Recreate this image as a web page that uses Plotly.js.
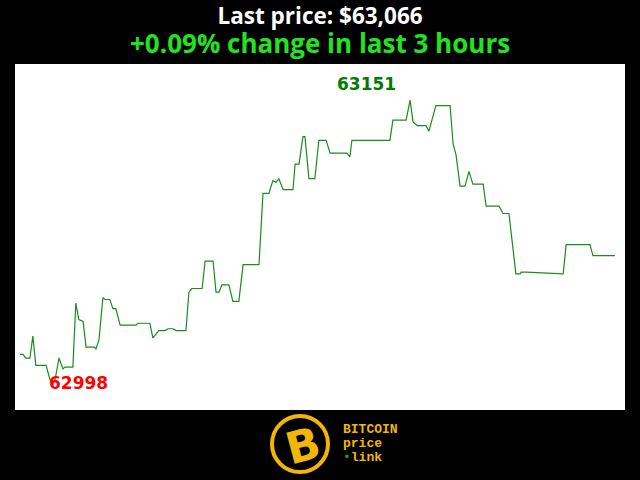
<!DOCTYPE html>
<html>
<head>
<meta charset="utf-8">
<script src="https://cdn.plot.ly/plotly-3.0.1.min.js"></script>
<style>html,body{margin:0;padding:0;background:#000;}#chart{width:640px;height:480px;}</style>
</head>
<body>
<div id="chart"></div>
<script>
// minutes since start of 3-hour window
const minutes = [0,0.9,1.8,3.0,3.9,4.8,7.9,9.1,10.6,11.8,13.0,13.6,16.0,16.9,17.8,19.1,20.0,22.4,23.0,23.9,
  25.1,25.7,27.2,28.1,29.0,30.3,35.1,35.7,39.3,40.2,42.0,43.9,44.8,46.3,47.2,50.2,51.1,52.0,55.1,56.0,
  58.4,59.3,60.2,61.1,63.2,64.4,66.2,67.5,72.3,73.5,75.0,75.3,76.5,77.4,78.3,79.6,82.6,83.2,84.4,85.6,
  86.2,87.4,89.2,90.4,92.6,93.8,98.9,99.8,100.4,111.9,112.8,116.8,118.0,118.9,120.1,122.8,123.7,125.8,130.1,131.0,
  131.9,133.1,134.6,135.8,137.0,140.1,141.0,144.9,146.1,147.9,150.0,151.3,151.6,153.1,164.3,165.2,172.4,173.3,180.0];
const prices = [63012,63012,63010,63010,63022,63006,63006,62998,62998,63010,63004,63005,63005,63040,63031,63030,63016,63016,63015,63020,
  63043,63042,63042,63037,63037,63028,63028,63029,63029,63021,63025,63025,63026,63026,63025,63025,63046,63048,63048,63063,
  63063,63046,63046,63050,63050,63041,63041,63061,63061,63100,63100,63100,63107,63106,63108,63102,63102,63116,63116,63131,
  63131,63108,63108,63129,63129,63122,63122,63120,63129,63129,63140,63140,63151,63139,63137,63137,63134,63148,63148,63127,
  63121,63104,63104,63112,63105,63105,63093,63093,63089,63089,63056,63056,63057,63057,63056,63072,63072,63066,63066];
const lastPrice = "$63,066";
const changeText = "+0.09% change in last 3 hours";
const maxLabel = "63151";
const minLabel = "62998";

const iMax = prices.indexOf(Math.max(...prices));
const iMin = prices.indexOf(Math.min(...prices));

const trace = {
  x: minutes, y: prices, type: 'scatter', mode: 'lines',
  line: {color: '#1a8c1a', width: 1.2}, hoverinfo: 'none'
};

const gold = '#f2b705';
const px = v => (v - 15) / 610;   // pixel x -> paper
const py = v => (410 - v) / 346;  // pixel y -> paper
const layout = {
  width: 640, height: 480,
  paper_bgcolor: '#000', plot_bgcolor: '#fff',
  margin: {l: 15, r: 15, t: 64, b: 70},
  showlegend: false,
  xaxis: {range: [-1.5, 183.0], visible: false, fixedrange: true},
  yaxis: {range: [62981.6, 63170.7], visible: false, fixedrange: true},
  shapes: [
    {type: 'circle', xref: 'paper', yref: 'paper',
     x0: px(272), x1: px(328), y0: py(472), y1: py(416),
     line: {color: gold, width: 4}, fillcolor: '#000'}
  ],
  annotations: [
    {xref: 'paper', yref: 'paper', x: px(320), y: py(31), xanchor: 'center', yanchor: 'middle',
     text: '<b>Last price: ' + lastPrice + '</b><br><span style="font-size:26px;color:#22e322"><b>' + changeText + '</b></span>',
     showarrow: false, align: 'center',
     font: {family: 'Open Sans, sans-serif', size: 22.5, color: '#fff'}},
    {x: minutes[iMax], y: prices[iMax], text: '<b>' + maxLabel + '</b>', showarrow: false,
     xshift: -44, yshift: 16, font: {family: 'DejaVu Sans, sans-serif', size: 17, color: '#007a00'}},
    {x: minutes[iMin], y: prices[iMin], text: '<b>' + minLabel + '</b>', showarrow: false,
     xshift: 28, yshift: -3, font: {family: 'DejaVu Sans, sans-serif', size: 17, color: '#ff0000'}},
    {xref: 'paper', yref: 'paper', x: px(303), y: py(445), xanchor: 'center', yanchor: 'middle',
     text: '<b>B</b>', showarrow: false, textangle: -15,
     font: {family: 'DejaVu Sans, sans-serif', size: 44, color: gold}},
    {xref: 'paper', yref: 'paper', x: px(341), y: py(429), xanchor: 'left', yanchor: 'middle',
     text: '<b>BITCOIN</b>', showarrow: false,
     font: {family: 'Liberation Mono, monospace', size: 13, color: gold}},
    {xref: 'paper', yref: 'paper', x: px(341), y: py(443), xanchor: 'left', yanchor: 'middle',
     text: '<b>price</b>', showarrow: false,
     font: {family: 'Liberation Mono, monospace', size: 13, color: gold}},
    {xref: 'paper', yref: 'paper', x: px(341), y: py(457), xanchor: 'left', yanchor: 'middle',
     text: '<span style="color:#1aa01a">•</span><b>link</b>', showarrow: false,
     font: {family: 'Liberation Mono, monospace', size: 13, color: gold}}
  ]
};

Plotly.newPlot('chart', [trace], layout, {displayModeBar: false, staticPlot: true});
</script>
</body>
</html>
